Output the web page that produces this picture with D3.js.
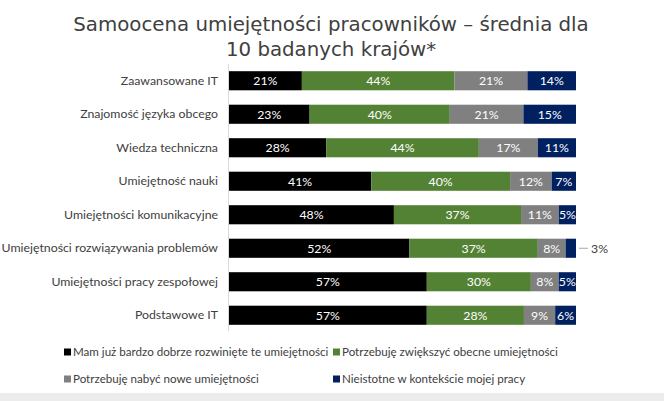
<!DOCTYPE html>
<html><head><meta charset="utf-8">
<script src="https://cdn.jsdelivr.net/npm/d3@7"></script>
<style>
html,body{margin:0;padding:0;background:#fff;}
svg{display:block;}
</style></head>
<body>
<svg id="chart" width="664" height="401"></svg>
<script>
const categories = [
  "Zaawansowane IT",
  "Znajomość języka obcego",
  "Wiedza techniczna",
  "Umiejętność nauki",
  "Umiejętności komunikacyjne",
  "Umiejętności rozwiązywania problemów",
  "Umiejętności pracy zespołowej",
  "Podstawowe IT"
];
const seriesNames = [
  "Mam już bardzo dobrze rozwinięte te umiejętności",
  "Potrzebuję zwiększyć obecne umiejętności",
  "Potrzebuję nabyć nowe umiejętności",
  "Nieistotne w kontekście mojej pracy"
];
const mamJuz      = [21, 23, 28, 41, 48, 52, 57, 57];
const zwiekszyc   = [44, 40, 44, 40, 37, 37, 30, 28];
const nabyc       = [21, 21, 17, 12, 11, 8, 8, 9];
const nieistotne  = [14, 15, 11, 7, 5, 3, 5, 6];
const colors = ["#000000", "#548235", "#808080", "#002060"];
const titleLines = ["Samoocena umiejętności pracowników – średnia dla", "10 badanych krajów*"];

const seriesValues = [mamJuz, zwiekszyc, nabyc, nieistotne];
const rows = categories.map((c, i) => {
  const o = {cat: c};
  seriesValues.forEach((s, j) => o["s" + j] = s[i]);
  return o;
});
const keys = seriesValues.map((_, j) => "s" + j);
const stacked = d3.stack().keys(keys).offset(d3.stackOffsetExpand)(rows);

const svg = d3.select("#chart");
const W = 664, H = 401;

// bottom band
svg.append("rect").attr("x", 0).attr("y", 393).attr("width", W).attr("height", 8).attr("fill", "#ececec");

// title
const title = svg.append("text").attr("text-anchor", "middle")
  .attr("font-family", "DejaVu Sans, Verdana, sans-serif").attr("font-size", 19.8)
  .attr("fill", "#404040");
titleLines.forEach((t, i) => {
  title.append("tspan").attr("x", 331).attr("y", 31 + i * 25).text(t);
});

const x = d3.scaleLinear().domain([0, 1]).range([229, 576]);
const y = d3.scaleBand().domain(categories).range([64, 332]).paddingInner(0.43).paddingOuter(0.215);

// axis line
svg.append("line").attr("x1", 228.5).attr("x2", 228.5).attr("y1", 64).attr("y2", 331)
  .attr("stroke", "#d9d9d9").attr("stroke-width", 1);

// category labels
const yAxis = d3.axisLeft(y).tickSize(0).tickPadding(10);
const gy = svg.append("g").attr("transform", "translate(228,0)").call(yAxis);
gy.select(".domain").remove();
gy.selectAll("text").attr("font-family", "Lato, 'Open Sans', sans-serif").attr("font-size", 12.3)
  .attr("fill", "#404040");

// bars
const layers = svg.selectAll("g.layer").data(stacked).join("g").attr("class", "layer")
  .attr("fill", (d, i) => colors[i]);
layers.selectAll("rect").data(d => d).join("rect")
  .attr("x", d => x(d[0]))
  .attr("y", d => y(d.data.cat))
  .attr("width", d => x(d[1]) - x(d[0]))
  .attr("height", y.bandwidth());

// data labels
stacked.forEach((layer, li) => {
  layer.forEach((d, ri) => {
    const v = seriesValues[li][ri];
    const w = x(d[1]) - x(d[0]);
    const cy = y(d.data.cat) + y.bandwidth() / 2;
    if (w >= 16) {
      svg.append("text").attr("x", (x(d[0]) + x(d[1])) / 2).attr("y", cy)
        .attr("dy", "0.35em").attr("text-anchor", "middle")
        .attr("font-family", "Lato, 'Open Sans', sans-serif").attr("font-size", 12.3)
        .attr("fill", "#ffffff").text(v + "%");
    } else {
      svg.append("line").attr("x1", x(d[1]) + 3).attr("x2", x(d[1]) + 12)
        .attr("y1", cy).attr("y2", cy).attr("stroke", "#a6a6a6").attr("stroke-width", 1);
      svg.append("text").attr("x", x(d[1]) + 15).attr("y", cy)
        .attr("dy", "0.35em").attr("text-anchor", "start")
        .attr("font-family", "Lato, 'Open Sans', sans-serif").attr("font-size", 12.3)
        .attr("fill", "#404040").text(v + "%");
    }
  });
});

// legend
const legendPos = [[64, 352], [333, 352], [64, 379], [333, 379]];
seriesNames.forEach((n, i) => {
  const [lx, ly] = legendPos[i];
  svg.append("rect").attr("x", lx).attr("y", ly - 3.5).attr("width", 7).attr("height", 7).attr("fill", colors[i]);
  svg.append("text").attr("x", lx + 9).attr("y", ly).attr("dy", "0.35em")
    .attr("font-family", "Lato, 'Open Sans', sans-serif").attr("font-size", 11.6)
    .attr("fill", "#404040").text(n);
});
</script>
</body></html>
